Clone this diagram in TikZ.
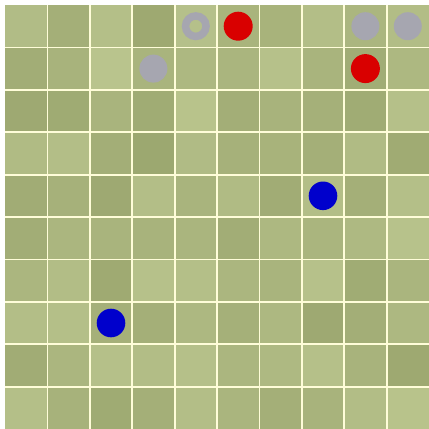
\documentclass[tikz,border=0pt]{standalone}
\begin{document}
\begin{tikzpicture}[x=1pt,y=-1pt,
  gridline/.style={draw=white!85!yellow, line width=1.8pt},
  reddot/.style={circle, fill=red!85!black, minimum size=29pt, inner sep=0pt},
  bluedot/.style={circle, fill=blue!80!black, minimum size=28.6pt, inner sep=0pt},
  graydot/.style={circle, fill=dotgray, minimum size=28pt, inner sep=0pt},
  grayring/.style={circle, draw=dotgray, line width=7.5pt, minimum size=20.5pt, inner sep=0pt}]
\definecolor{dotgray}{HTML}{A6A6B0}
\useasboundingbox (0,0) rectangle (429,429);
\fill[white] (0,0) rectangle (429,429);
\def\pitch{42.4}
\foreach \r/\row in {
 0/{B1BC86,A4AF78,B4BF88,9EA971,B5C08A,A9B47C,A8B37B,B3BE87,ABB67F,B2BD86},
 1/{A2AD76,A8B37C,B9C48D,A9B47D,ADB881,AAB57E,B6C18A,A9B47D,A1AD75,ADB881},
 2/{9EA972,9FAB73,A9B47D,A0AC74,B8C38B,A3AE77,A8B37C,A5B079,A0AC74,B5C089},
 3/{B0BB84,B3BE87,A3AE77,9CA870,B0BB85,A6B17A,A8B37B,A4AF78,B0BB84,A0AB73},
 4/{A1AC75,A6B17A,9EA972,B3BE87,A9B47D,B0BB84,A1AC75,B3BE87,A4AF78,B4BF88},
 5/{A2AD76,ABB67F,A9B47D,A8B37C,AAB57E,A2AD76,ADB881,AAB57E,AEB982,B7C28B},
 6/{ABB67F,B2BD86,9FAA72,B6C18A,B4BF88,ABB67F,A9B47D,B6C18A,A0AC74,AAB57E},
 7/{B3BE87,B4BF88,A5B079,A4AF78,ADB881,A5B079,ADB881,9EA972,A3AE77,ADB881},
 8/{A1AC75,ABB67F,B5C089,B2BD86,B5C089,ABB67F,AEB982,B5C089,A8B37C,9EA971},
 9/{B4BF88,A7B27B,9FAB73,A4AF78,B3BE87,AAB57E,A4AF78,A8B37C,B2BD86,B8C38B}} {
  \foreach \col [count=\c from 0] in \row {
    \definecolor{cellc}{HTML}{\col}
    \fill[cellc] ({5+\pitch*\c},{5+\pitch*\r}) rectangle ({5+\pitch*(\c+1)},{5+\pitch*(\r+1)});
  }
}
\foreach \k in {1,...,9} {
  \draw[gridline] ({5+\pitch*\k},5) -- ({5+\pitch*\k},429);
  \draw[gridline] (5,{5+\pitch*\k}) -- (429,{5+\pitch*\k});
}
\node[grayring] (ring) at ({5+\pitch*4.5},{5+\pitch*0.5}) {};
\node[graydot] (g1) at ({5+\pitch*3.5},{5+\pitch*1.5}) {};
\node[graydot] (g2) at ({5+\pitch*8.5},{5+\pitch*0.5}) {};
\node[graydot] (g3) at ({5+\pitch*9.5},{5+\pitch*0.5}) {};
\node[reddot] (r1) at ({5+\pitch*5.5},{5+\pitch*0.5}) {};
\node[reddot] (r2) at ({5+\pitch*8.5},{5+\pitch*1.5}) {};
\node[bluedot] (b1) at ({5+\pitch*7.5},{5+\pitch*4.5}) {};
\node[bluedot] (b2) at ({5+\pitch*2.5},{5+\pitch*7.5}) {};
\end{tikzpicture}
\end{document}
